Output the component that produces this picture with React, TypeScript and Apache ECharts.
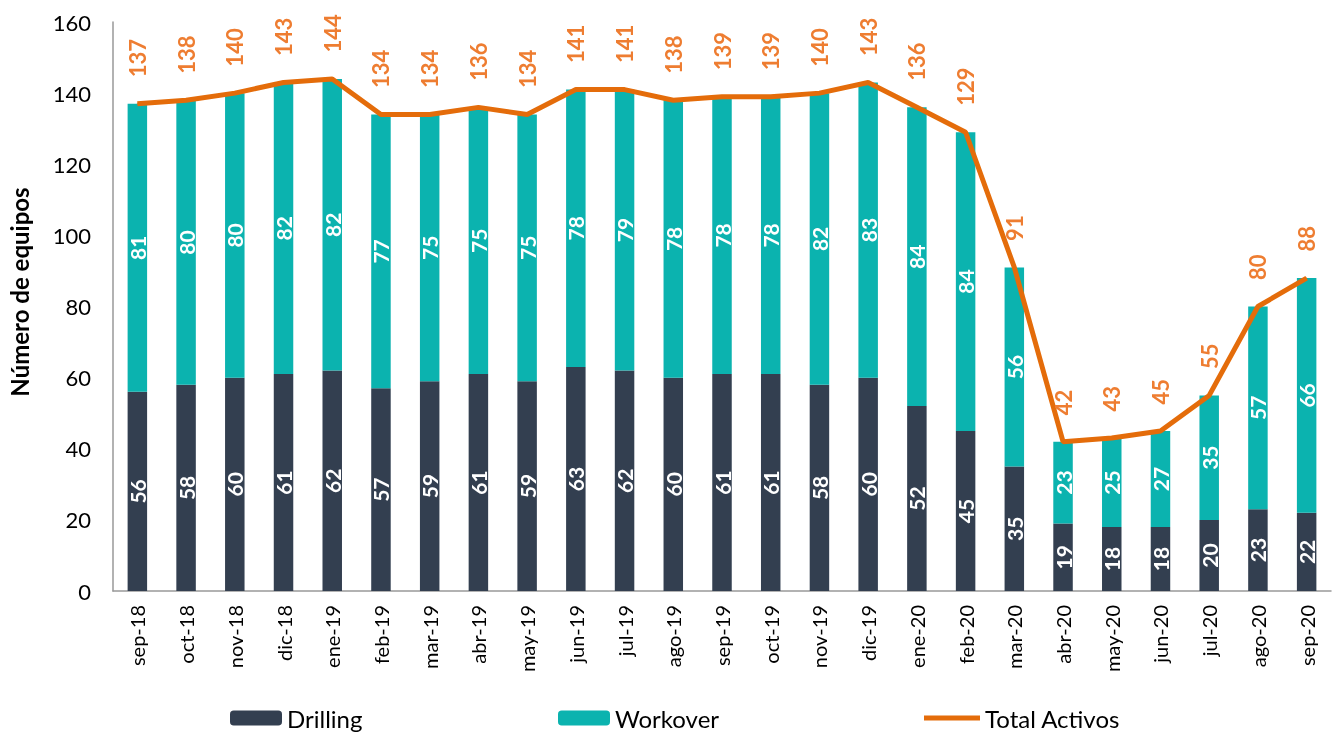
import React, { useEffect, useRef } from "react";
import * as echarts from "echarts";

const categories = ["sep-18","oct-18","nov-18","dic-18","ene-19","feb-19","mar-19","abr-19","may-19","jun-19","jul-19","ago-19","sep-19","oct-19","nov-19","dic-19","ene-20","feb-20","mar-20","abr-20","may-20","jun-20","jul-20","ago-20","sep-20"];
const drilling = [56,58,60,61,62,57,59,61,59,63,62,60,61,61,58,60,52,45,35,19,18,18,20,23,22];
const workover = [81,80,80,82,82,77,75,75,75,78,79,78,78,78,82,83,84,84,56,23,25,27,35,57,66];
const totalActivos = [137,138,140,143,144,134,134,136,134,141,141,138,139,139,140,143,136,129,91,42,43,45,55,80,88];
const yTicks = { min: 0, max: 160, interval: 20 };

const FONT = "Lato, 'DejaVu Sans', sans-serif";

export default function App() {
  const ref = useRef<HTMLDivElement>(null);
  useEffect(() => {
    if (!ref.current) return;
    const chart = echarts.init(ref.current, null, { renderer: "svg" });
    const barLabel = {
      show: true,
      position: "inside",
      rotate: 90,
      color: "#ffffff",
      fontFamily: FONT,
      fontWeight: "bold",
      fontSize: 21,
    };
    const legendText = { fontSize: 24, color: "#000", fontFamily: FONT };
    chart.setOption({
      animation: false,
      textStyle: { fontFamily: FONT },
      grid: { left: 113, right: 5, top: 22, bottom: 145, containLabel: false, outerBoundsMode: "none" },
      legend: [
        {
          data: ["Drilling"], left: 225, top: 701, itemWidth: 52, itemHeight: 15,
          textStyle: legendText,
        },
        {
          data: ["Workover"], left: 553, top: 701, itemWidth: 52, itemHeight: 15,
          textStyle: legendText,
        },
        {
          data: [{ name: "Total Activos", icon: "rect", itemStyle: { color: "#E46C0A" } }], left: 919, top: 701, itemWidth: 56, itemHeight: 5,
          textStyle: legendText,
        },
      ],
      graphic: [
        {
          type: "text",
          x: 19,
          y: 292,
          rotation: Math.PI / 2,
          style: {
            text: "Número de equipos",
            fontSize: 24,
            fontWeight: "bold",
            fill: "#000",
            fontFamily: FONT,
            align: "center",
            verticalAlign: "middle",
          },
        },
      ],
      xAxis: {
        type: "category",
        data: categories,
        axisLine: { show: true, lineStyle: { color: "#999999", width: 1.5 } },
        axisTick: { show: false },
        axisLabel: { rotate: 90, fontSize: 20, color: "#000", fontFamily: FONT, margin: 14 },
      },
      yAxis: {
        type: "value",
        min: yTicks.min,
        max: yTicks.max,
        interval: yTicks.interval,
        axisLine: { show: true, lineStyle: { color: "#999999", width: 1.5 } },
        axisTick: { show: false },
        splitLine: { show: false },
        axisLabel: { fontSize: 22, color: "#000", fontFamily: FONT, margin: 22 },
      },
      series: [
        {
          name: "Drilling",
          type: "bar",
          stack: "t",
          data: drilling,
          barWidth: "40%",
          itemStyle: { color: "#333F50" },
          label: barLabel,
        },
        {
          name: "Workover",
          type: "bar",
          stack: "t",
          data: workover,
          barWidth: "40%",
          itemStyle: { color: "#0BB3AF" },
          label: barLabel,
        },
        {
          name: "Total Activos",
          type: "line",
          data: totalActivos,
          symbol: "circle",
          symbolSize: 1,
          showSymbol: true,
          lineStyle: { color: "#E46C0A", width: 5 },
          itemStyle: { color: "#E46C0A" },
          z: 5,
          label: {
            show: true,
            position: "top",
            rotate: 90,
            align: "left",
            verticalAlign: "middle",
            distance: 26,
            color: "#EE7D31",
            fontFamily: FONT,
            fontWeight: "bold",
            fontSize: 22,
          },
        },
      ],
    });
    return () => chart.dispose();
  }, []);
  return <div ref={ref} style={{ width: 1336, height: 736, position: "fixed", left: 0, top: 0 }} />;
}
